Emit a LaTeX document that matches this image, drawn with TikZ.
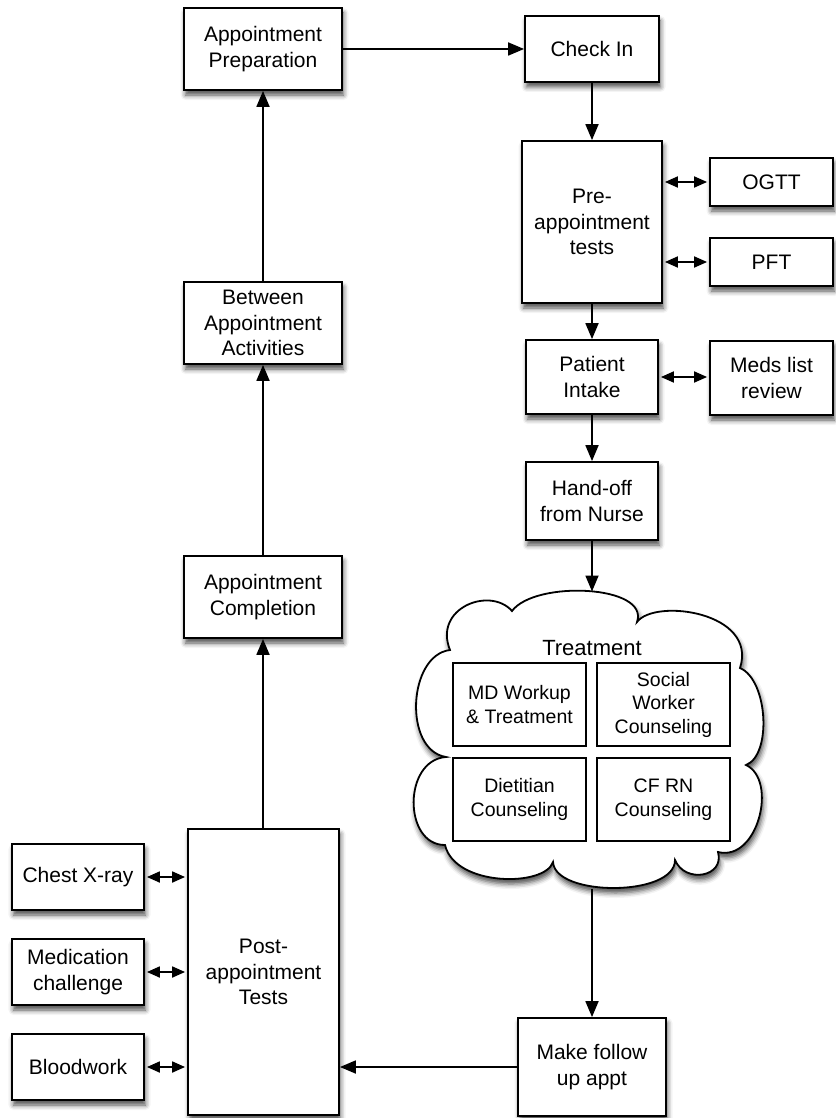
\documentclass[tikz,border=0pt]{standalone}
\usepackage{fontspec}
\setmainfont{Liberation Sans}
\usetikzlibrary{arrows.meta,shadows.blur}

\tikzset{
  soft shadow/.style={blur shadow={shadow xshift=1.5pt, shadow yshift=-5pt,
      shadow blur radius=5pt, shadow opacity=70}},
  box/.style={draw=black, line width=1.8pt, fill=white, align=center,
      inner sep=2pt, font=\fontsize{21}{25.5}\selectfont, soft shadow},
  subbox/.style={draw=black, line width=1.7pt, fill=white, align=center,
      inner sep=2pt, font=\fontsize{19.5}{23.5}\selectfont,
      minimum width=133pt, minimum height=83pt},
  arr/.style={line width=1.8pt, draw=black,
      -{Triangle[length=16pt,width=13pt,fill=black]}},
  darr/.style={line width=1.8pt, draw=black,
      {Triangle[length=13pt,width=11pt,fill=black]}-{Triangle[length=13pt,width=11pt,fill=black]},
      shorten <=2pt, shorten >=2pt},
}

\begin{document}
\begin{tikzpicture}[x=1pt,y=-1pt]
\useasboundingbox (0,0) rectangle (835,1118);

% main cycle, left column
\node[box, minimum width=158pt, minimum height=82pt] (prep) at (263,49) {Appointment\\Preparation};
\node[box, minimum width=158pt, minimum height=82pt] (between) at (263,323) {Between\\Appointment\\Activities};
\node[box, minimum width=158pt, minimum height=82pt] (completion) at (263,597) {Appointment\\Completion};
\node[box, minimum width=151pt, minimum height=286pt] (posttests) at (263.5,972) {Post-\\appointment\\Tests};

% post-appointment tests
\node[box, minimum width=132pt, minimum height=66pt] (xray) at (78,877) {Chest X-ray};
\node[box, minimum width=132pt, minimum height=66pt] (medchal) at (78,972) {Medication\\challenge};
\node[box, minimum width=132pt, minimum height=66pt] (blood) at (78,1067) {Bloodwork};

% right column
\node[box, minimum width=134pt, minimum height=66pt] (checkin) at (592,49) {Check In};
\node[box, minimum width=140pt, minimum height=162pt] (pretests) at (592,222) {Pre-\\appointment\\tests};
\node[box, minimum width=123pt, minimum height=48pt] (ogtt) at (771.5,182) {OGTT};
\node[box, minimum width=123pt, minimum height=48pt] (pft) at (771.5,262) {PFT};
\node[box, minimum width=132pt, minimum height=74pt] (intake) at (592,377) {Patient\\Intake};
\node[box, minimum width=123pt, minimum height=74pt] (meds) at (771.5,378) {Meds list\\review};
\node[box, minimum width=132pt, minimum height=78pt] (handoff) at (592,501) {Hand-off\\from Nurse};
\node[box, minimum width=148pt, minimum height=98pt] (followup) at (592,1067) {Make follow\\up appt};

% treatment cloud
\path[draw=black, fill=white, line width=1.8pt, soft shadow]
  (512,611) .. controls (535,580) and (650,585) .. (637,622)
  .. controls (655,598) and (758,612) .. (740,668)
  .. controls (768,680) and (772,755) .. (746,765)
  .. controls (778,780) and (758,862) .. (718,852)
  .. controls (725,877) and (685,884) .. (675,860)
  .. controls (675,897) and (555,897) .. (553,862)
  .. controls (545,887) and (455,887) .. (445,845)
  .. controls (403,845) and (403,760) .. (446,757)
  .. controls (403,750) and (408,655) .. (450,650)
  .. controls (433,608) and (490,586) .. (512,611) -- cycle;
\coordinate (cloudtop) at (592,591.5);
\coordinate (cloudbot) at (592,889);
\node[font=\fontsize{22}{26}\selectfont] (treatment) at (592,648) {Treatment};
\node[subbox] (md) at (519.5,704.5) {MD Workup\\\& Treatment};
\node[subbox] (social) at (663.5,704.5) {Social\\Worker\\Counseling};
\node[subbox] (diet) at (519.5,799.5) {Dietitian\\Counseling};
\node[subbox] (cfrn) at (663.5,799.5) {CF RN\\Counseling};

% flow
\draw[arr] (prep.east) -- (checkin.west);
\draw[arr] (checkin.south) -- (checkin.south |- pretests.north);
\draw[arr] (pretests.south) -- (pretests.south |- intake.north);
\draw[arr] (intake.south) -- (handoff.north);
\draw[arr] (handoff.south) -- (cloudtop);
\draw[arr] (cloudbot) -- (followup.north);
\draw[arr] (followup.west) -- (followup.west -| posttests.east);
\draw[arr] (completion.south |- posttests.north) -- (completion.south);
\draw[arr] (completion.north) -- (between.south);
\draw[arr] (between.north) -- (prep.south);

% test exchanges
\draw[darr] (pretests.east |- ogtt.west) -- (ogtt.west);
\draw[darr] (pretests.east |- pft.west) -- (pft.west);
\draw[darr] (intake.east) -- (intake.east -| meds.west);
\draw[darr] (xray.east) -- (xray.east -| posttests.west);
\draw[darr] (medchal.east) -- (medchal.east -| posttests.west);
\draw[darr] (blood.east) -- (blood.east -| posttests.west);
\end{tikzpicture}
\end{document}
